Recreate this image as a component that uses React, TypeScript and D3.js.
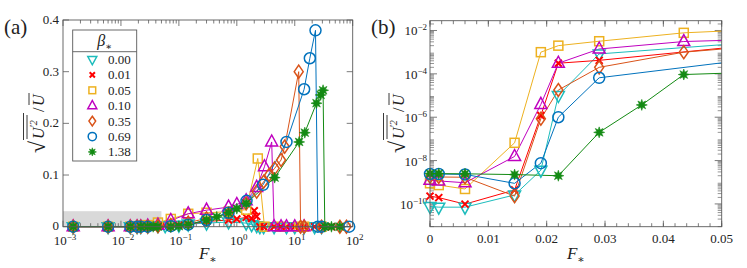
import React from "react";
import * as d3 from "d3";

const betaLabels = ["0.00", "0.01", "0.05", "0.10", "0.35", "0.69", "1.38"];
const colors = ["#1cbcbc", "#ff0000", "#edb120", "#bf00bf", "#d95319", "#0072bd", "#138a13"];
const shapes = ["triDown", "cross", "square", "triUp", "diamond", "circle", "star"];

// panel (a): [F*, rms(U')/U]
const a000 = [[0.0015, 0], [0.006, 0], [0.0145, 0], [0.019, 0], [0.022, 0], [0.029, 0.001], [0.0435, 0.002], [0.058, 0.002], [0.1, 0.003], [0.145, 0.005], [0.3, 0.007], [0.72, 0.009], [1.45, 0.007], [1.8, 0.004], [2.2, 0.002], [2.5, 0], [2.9, 0], [4.4, 0], [7.2, 0], [10, 0], [14.5, 0], [22, 0], [29, 0]];
const a001 = [[0.0015, 0], [0.006, 0], [0.0145, 0], [0.019, 0], [0.022, 0], [0.029, 0], [0.0435, 0.001], [0.058, 0.002], [0.1, 0.003], [0.145, 0.005], [0.3, 0.01], [0.72, 0.013], [1.0, 0.015], [1.45, 0.018], [1.8, 0.016], [2.0, 0.031], [2.2, 0.02], [2.5, 0], [2.9, 0], [4.4, 0], [5.8, 0], [7.2, 0], [10, 0], [14.5, 0], [22, 0], [29, 0], [43, 0]];
const a005 = [[0.0015, 0], [0.006, 0], [0.0145, 0], [0.019, 0.001], [0.022, 0.002], [0.029, 0.003], [0.0435, 0.008], [0.0725, 0.015], [0.145, 0.025], [0.3, 0.027], [0.72, 0.029], [1.45, 0.033], [2.3, 0.132], [3.0, 0], [5.8, 0], [12, 0], [14.5, 0], [29, 0]];
const a010 = [[0.0015, 0], [0.006, 0], [0.0145, 0], [0.019, 0], [0.022, 0], [0.029, 0.001], [0.0435, 0.003], [0.0725, 0.012], [0.145, 0.025], [0.3, 0.032], [0.72, 0.038], [1.0, 0.043], [1.45, 0.05], [2.2, 0.076], [3.0, 0.116], [4.0, 0.164], [4.4, 0], [5.8, 0], [7.2, 0], [10, 0], [14.5, 0]];
const a035 = [[0.0015, 0], [0.006, 0], [0.0145, 0], [0.019, 0], [0.022, 0], [0.029, 0], [0.0435, 0.001], [0.0725, 0.003], [0.145, 0.008], [0.3, 0.016], [0.72, 0.025], [1.45, 0.045], [2.2, 0.068], [2.9, 0.087], [3.6, 0.1], [4.5, 0.113], [5.8, 0.129], [6.7, 0.155], [11.7, 0.3], [12.6, 0], [14.5, 0], [29, 0], [60, 0], [78, 0]];
const a069 = [[0.0015, 0], [0.006, 0], [0.0145, 0], [0.019, 0], [0.022, 0], [0.029, 0], [0.0725, 0.001], [0.145, 0.004], [0.3, 0.013], [0.72, 0.027], [1.47, 0.05], [2.84, 0.081], [7.2, 0.164], [14.5, 0.266], [18.2, 0.326], [22.8, 0.38], [25, 0], [29, 0], [87, 0]];
const a138 = [[0.0015, 0], [0.006, 0], [0.0145, 0], [0.022, 0], [0.029, 0], [0.036, 0], [0.0435, 0], [0.0725, 0], [0.1, 0.001], [0.145, 0.004], [0.3, 0.013], [0.45, 0.019], [0.72, 0.027], [1.0, 0.035], [1.45, 0.045], [4.5, 0.095], [11.9, 0.164], [14.9, 0.182], [23.7, 0.239], [28, 0.255], [30.8, 0.264], [33, 0], [43, 0], [60, 0]];
const panelA = [a000, a001, a005, a010, a035, a069, a138];

// panel (b): small F* close-up, log scale
const b000 = [[0, 7.6e-11], [0.0015, 7.1e-11], [0.006, 7.1e-11], [0.0145, 2.6e-10], [0.019, 3.6e-9], [0.022, 1e-5], [0.029, 8.3e-4], [0.058, 3.2e-3]];
const b001 = [[0, 2.3e-10], [0.0015, 1.95e-10], [0.006, 9.8e-11], [0.0145, 4.4e-10], [0.019, 1.2e-6], [0.022, 3.1e-4], [0.029, 4.2e-4], [0.058, 2.5e-3]];
const b005 = [[0, 9e-10], [0.0015, 7.4e-10], [0.006, 4.9e-10], [0.0145, 6.6e-8], [0.019, 1e-3], [0.022, 2e-3], [0.029, 3.2e-3], [0.0435, 7.8e-3], [0.058, 1.17e-2]];
const b010 = [[0, 1.25e-9], [0.0015, 1.15e-9], [0.006, 9.5e-10], [0.0145, 1.55e-8], [0.019, 3.9e-6], [0.022, 3.1e-4], [0.029, 1.4e-3], [0.0435, 3.1e-3], [0.058, 4e-3]];
const b035 = [[0, 1.8e-9], [0.0015, 1.75e-9], [0.006, 1.7e-9], [0.0145, 2.3e-10], [0.019, 8.5e-7], [0.022, 1.8e-5], [0.029, 2e-4], [0.0435, 1e-3], [0.058, 2.1e-3]];
const b069 = [[0, 2.4e-9], [0.0015, 2.4e-9], [0.006, 2.3e-9], [0.0145, 8.9e-10], [0.019, 7.6e-9], [0.022, 1e-6], [0.029, 6.6e-5], [0.058, 5.9e-4]];
const b138 = [[0, 2.5e-9], [0.0015, 2.5e-9], [0.006, 2.45e-9], [0.0145, 2.26e-9], [0.022, 2e-9], [0.029, 2e-7], [0.0363, 3.7e-6], [0.0435, 9.3e-5], [0.058, 1.25e-4]];
const panelB = [b000, b001, b005, b010, b035, b069, b138];

const xTicksA = [1e-3, 1e-2, 1e-1, 1, 10, 100];
const xExpA = ["\u22123", "\u22122", "\u22121", "0", "1", "2"];
const yTicksA = [0, 0.1, 0.2, 0.3, 0.4];
const xTicksB = [0, 0.01, 0.02, 0.03, 0.04, 0.05];
const yTicksB = [1e-10, 1e-8, 1e-6, 1e-4, 1e-2];
const yExpB = ["\u221210", "\u22128", "\u22126", "\u22124", "\u22122"];

const FONT = "'Liberation Serif', 'DejaVu Serif', serif";
const AX = "#5a5a5a";

function Marker({ shape, color, x, y, s = 1 }: any) {
  const t = `translate(${x},${y}) scale(${s})`;
  const common = { fill: "none", stroke: color, strokeWidth: 1.5 / s };
  if (shape === "triDown") return <path transform={t} d="M-6,-4L6,-4L0,7Z" {...common} />;
  if (shape === "triUp") return <path transform={t} d="M-6,4L6,4L0,-7Z" {...common} />;
  if (shape === "square") return <rect transform={t} x={-4.5} y={-4.5} width={9} height={9} {...common} />;
  if (shape === "diamond") return <path transform={t} d="M0,-6.5L4.5,0L0,6.5L-4.5,0Z" {...common} />;
  if (shape === "circle") return <circle transform={t} r={5.5} {...common} />;
  if (shape === "cross")
    return <path transform={t} d="M-3.5,-3.5L3.5,3.5M-3.5,3.5L3.5,-3.5" fill="none" stroke={color} strokeWidth={2 / s} />;
  // filled 8-point star
  const pts: string[] = [];
  for (let i = 0; i < 16; i++) {
    const r = i % 2 === 0 ? 5.5 : 2.6;
    const a = (Math.PI * i) / 8 - Math.PI / 2;
    pts.push(`${r * Math.cos(a)},${r * Math.sin(a)}`);
  }
  return <path transform={t} d={`M${pts.join("L")}Z`} fill={color} stroke={color} strokeWidth={0.6 / s} />;
}

function Pow({ x, y, exp, anchor = "middle" }: any) {
  return (
    <text x={x} y={y} textAnchor={anchor} fontFamily={FONT} fontSize={13} fill="#222">
      10<tspan dy={-5} fontSize={9}>{exp}</tspan>
    </text>
  );
}

function YLabel({ x, y }: any) {
  return (
    <g transform={`translate(${x},${y}) rotate(-90)`} fontFamily={FONT} fill="#222">
      <text x={-45} y={5} fontSize={22}>{"\u221a"}</text>
      <line x1={-32} x2={-5} y1={-16.5} y2={-16.5} stroke="#222" strokeWidth={0.9} />
      <line x1={-31} x2={-7} y1={-13} y2={-13} stroke="#222" strokeWidth={0.9} />
      <text x={-31} y={4} fontSize={16} fontStyle="italic">U<tspan dy={-7} fontSize={10}>{"\u2032"}2</tspan></text>
      <text x={-4} y={4} fontSize={16}>/</text>
      <line x1={3} x2={15} y1={-11} y2={-11} stroke="#222" strokeWidth={0.9} />
      <text x={2} y={4} fontSize={16} fontStyle="italic">U</text>
    </g>
  );
}

function FLabel({ x, y }: any) {
  return (
    <text x={x} y={y} textAnchor="middle" fontFamily={FONT} fontSize={17} fontStyle="italic" fill="#222">
      F<tspan dy={4} fontSize={11} fontStyle="normal">{"\u2217"}</tspan>
    </text>
  );
}

export default function App() {
  const A = { l: 63, r: 352.7, t: 20, b: 226.7 };
  const B = { l: 430, r: 721.7, t: 20.7, b: 226.7 };

  const xa = d3.scaleLog().domain([1e-3, 100]).range([A.l, A.r]);
  const ya = d3.scaleLinear().domain([0, 0.4]).range([A.b, A.t]);
  const xb = d3.scaleLinear().domain([0, 0.05]).range([B.l, B.r]);
  const yb = d3.scaleLog().domain([Math.pow(10, -11.05), Math.pow(10, -1.548)]).range([B.b, B.t]);

  const lineA = d3.line<number[]>().x((d) => xa(d[0])).y((d) => ya(d[1]));
  const lineB = d3.line<number[]>().x((d) => xb(d[0])).y((d) => yb(d[1]));

  const minorA: number[] = [];
  for (let e = -3; e < 2; e++) for (let k = 2; k <= 9; k++) minorA.push(k * Math.pow(10, e));
  const minorYB: number[] = [];
  for (let e = -12; e <= -2; e++)
    for (let k = 2; k <= 9; k++) {
      const v = k * Math.pow(10, e);
      if (yb(v) >= B.t && yb(v) <= B.b) minorYB.push(v);
    }
  const minorXB = d3.range(0, 26).map((i) => i * 0.002).filter((v) => v <= 0.05001);

  return (
    <svg width={747} height={268} style={{ position: "fixed", left: 0, top: 0, background: "#fff" }}>
      <defs>
        <clipPath id="clipB">
          <rect x={B.l} y={B.t} width={B.r - B.l} height={B.b - B.t} />
        </clipPath>
      </defs>

      {/* ---------- panel (a) ---------- */}
      <text x={4} y={34} fontFamily={FONT} fontSize={21} fill="#222">(a)</text>
      <rect x={A.l} y={ya(0.03)} width={xa(0.05) - A.l} height={A.b - ya(0.03)} fill="#d9d9d9" />
      {minorA.map((v, i) => (
        <g key={"ma" + i} stroke={AX} strokeWidth={0.8}>
          <line x1={xa(v)} x2={xa(v)} y1={A.b} y2={A.b - 3.5} />
          <line x1={xa(v)} x2={xa(v)} y1={A.t} y2={A.t + 3.5} />
        </g>
      ))}
      {xTicksA.map((v, i) => (
        <g key={"xa" + i}>
          <line x1={xa(v)} x2={xa(v)} y1={A.b} y2={A.b - 6} stroke={AX} strokeWidth={0.8} />
          <line x1={xa(v)} x2={xa(v)} y1={A.t} y2={A.t + 6} stroke={AX} strokeWidth={0.8} />
          <Pow x={xa(v) + 2} y={245} exp={xExpA[i]} />
        </g>
      ))}
      {yTicksA.map((v, i) => (
        <g key={"ya" + i}>
          <line x1={A.l} x2={A.l + 6} y1={ya(v)} y2={ya(v)} stroke={AX} strokeWidth={0.8} />
          <line x1={A.r} x2={A.r - 6} y1={ya(v)} y2={ya(v)} stroke={AX} strokeWidth={0.8} />
          <text x={59} y={ya(v) + (v === 0 ? 3 : 4)} textAnchor="end" fontFamily={FONT} fontSize={13} fill="#222">
            {v === 0 ? "0" : v.toFixed(1)}
          </text>
        </g>
      ))}
      {panelA.map((s, i) => (
        <path key={"la" + i} d={lineA(s) || ""} fill="none" stroke={colors[i]} strokeWidth={1} />
      ))}
      {panelA.map((s, i) =>
        s.map((d, j) => <Marker key={`pa${i}-${j}`} shape={shapes[i]} color={colors[i]} x={xa(d[0])} y={ya(d[1])} />)
      )}
      <rect x={A.l} y={A.t} width={A.r - A.l} height={A.b - A.t} fill="none" stroke={AX} strokeWidth={0.9} />
      <YLabel x={40} y={108} />
      <FLabel x={(A.l + A.r) / 2} y={259} />

      {/* legend */}
      <rect x={72.7} y={30} width={64} height={131} fill="#fff" stroke={AX} strokeWidth={0.9} />
      <line x1={72.7} x2={136.7} y1={51.7} y2={51.7} stroke={AX} strokeWidth={0.9} />
      <text x={104.7} y={46} textAnchor="middle" fontFamily={FONT} fontSize={16} fontStyle="italic" fill="#222">
        {"\u03b2"}<tspan dy={4} fontSize={10} fontStyle="normal">{"\u2217"}</tspan>
      </text>
      {betaLabels.map((b, i) => (
        <g key={"lg" + i}>
          <Marker shape={shapes[i]} color={colors[i]} x={92.3} y={59.5 + i * 15.4} s={0.75} />
          <text x={108} y={59.5 + i * 15.4 + 4.5} fontFamily={FONT} fontSize={13} fill="#222">{b}</text>
        </g>
      ))}

      {/* ---------- panel (b) ---------- */}
      <text x={371} y={34} fontFamily={FONT} fontSize={21} fill="#222">(b)</text>
      {minorYB.map((v, i) => (
        <g key={"myb" + i} stroke="#8a8a8a" strokeWidth={0.9}>
          <line x1={B.l} x2={B.l + 4} y1={yb(v)} y2={yb(v)} />
          <line x1={B.r} x2={B.r - 4} y1={yb(v)} y2={yb(v)} />
        </g>
      ))}
      {yTicksB.map((v, i) => (
        <g key={"yb" + i}>
          <line x1={B.l} x2={B.l + 7} y1={yb(v)} y2={yb(v)} stroke={AX} strokeWidth={0.8} />
          <line x1={B.r} x2={B.r - 7} y1={yb(v)} y2={yb(v)} stroke={AX} strokeWidth={0.8} />
          <Pow x={427} y={yb(v) + 5} exp={yExpB[i]} anchor="end" />
        </g>
      ))}
      {minorXB.map((v, i) => (
        <g key={"mxb" + i} stroke={AX} strokeWidth={0.8}>
          <line x1={xb(v)} x2={xb(v)} y1={B.b} y2={B.b - 3.5} />
          <line x1={xb(v)} x2={xb(v)} y1={B.t} y2={B.t + 3.5} />
        </g>
      ))}
      {xTicksB.map((v, i) => (
        <g key={"xb" + i}>
          <line x1={xb(v)} x2={xb(v)} y1={B.b} y2={B.b - 6} stroke={AX} strokeWidth={0.8} />
          <line x1={xb(v)} x2={xb(v)} y1={B.t} y2={B.t + 6} stroke={AX} strokeWidth={0.8} />
          <text x={xb(v)} y={243} textAnchor="middle" fontFamily={FONT} fontSize={13} fill="#222">
            {v === 0 ? "0" : v.toFixed(2)}
          </text>
        </g>
      ))}
      <g clipPath="url(#clipB)">
        {panelB.map((s, i) => (
          <path key={"lb" + i} d={lineB(s) || ""} fill="none" stroke={colors[i]} strokeWidth={1} />
        ))}
      </g>
      {panelB.map((s, i) =>
        s
          .filter((d) => d[0] <= 0.05)
          .map((d, j) => <Marker key={`pb${i}-${j}`} shape={shapes[i]} color={colors[i]} x={xb(d[0])} y={yb(d[1])} />)
      )}
      <rect x={B.l} y={B.t} width={B.r - B.l} height={B.b - B.t} fill="none" stroke={AX} strokeWidth={0.9} />
      <YLabel x={400} y={108} />
      <FLabel x={(B.l + B.r) / 2} y={259} />
    </svg>
  );
}
